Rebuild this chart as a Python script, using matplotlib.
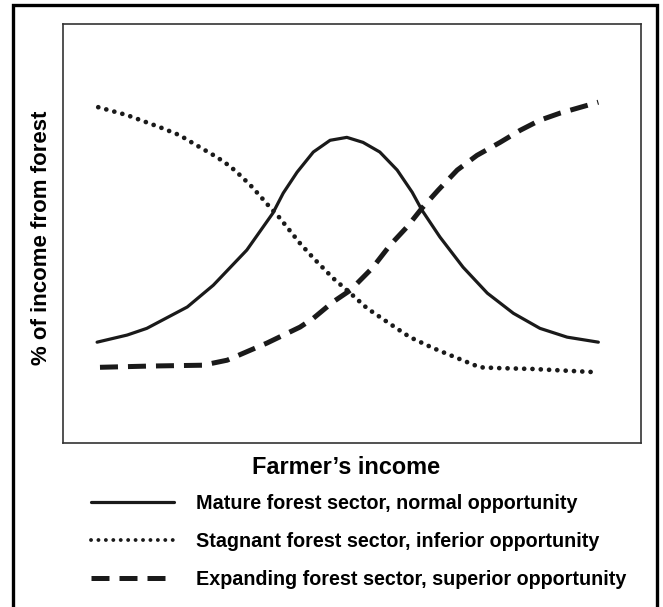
import matplotlib
matplotlib.use("Agg")
import matplotlib.pyplot as plt
from matplotlib.lines import Line2D
from matplotlib.patches import Rectangle

plt.rcParams['font.family'] = ['Liberation Sans', 'DejaVu Sans']

# farmer's income (0-100) and % of income from forest (0-100)
mature_x = [5.9, 11.1, 14.5, 21.5, 26.0, 31.8, 36.3, 38.1, 40.5, 43.3, 46.2, 49.1,
            51.9, 54.8, 57.8, 60.4, 62.1, 65.2, 69.2, 73.4, 77.9, 82.5, 87.2, 92.6]
mature_y = [24.1, 25.8, 27.4, 32.5, 37.7, 46.1, 54.9, 59.7, 64.7, 69.5, 72.3, 73.0,
            71.8, 69.5, 65.2, 59.9, 55.6, 49.2, 42.0, 35.8, 31.0, 27.4, 25.3, 24.1]

stagnant_x = [6.1, 11.1, 16.8, 20.2, 22.5, 24.6, 26.6, 28.9, 30.6, 32.4, 34.1, 35.8, 37.4,
              41.0, 43.3, 46.7, 49.7, 52.6, 56.1, 60.0, 64.0, 68.2, 72.1, 75.6, 81.3, 92.6]
stagnant_y = [80.2, 78.3, 75.4, 73.5, 71.6, 69.9, 68.3, 66.1, 64.0, 61.6, 59.0, 56.3, 53.9,
              47.7, 44.2, 39.4, 35.8, 32.2, 28.9, 25.3, 22.7, 20.3, 18.1, 17.9, 17.7, 16.9]

expanding_x = [6.4, 15.1, 24.2, 28.4, 35.3, 41.0, 43.3, 46.7, 49.7, 53.5, 56.6,
               59.5, 62.1, 64.9, 68.2, 71.6, 75.6, 79.1, 82.5, 86.0, 92.6]
expanding_y = [18.1, 18.4, 18.6, 19.8, 23.9, 27.7, 29.8, 33.7, 36.5, 41.8, 47.3,
               51.6, 56.1, 60.4, 65.2, 68.7, 71.8, 74.7, 77.1, 78.8, 81.4]

labels = ["Mature forest sector, normal opportunity",
          "Stagnant forest sector, inferior opportunity",
          "Expanding forest sector, superior opportunity"]

fig = plt.figure(figsize=(6.63, 6.07), dpi=100)
ax = fig.add_axes([0.095, 0.270, 0.872, 0.690])

ink = "#1a1a1a"
solid_style = dict(color=ink, lw=2.3, ls="-", solid_capstyle="round",
                   solid_joinstyle="round")
dot_style = dict(color=ink, lw=3.4, ls=(0, (0.01, 1.75)),
                 dash_capstyle="round")
dash_style = dict(color=ink, lw=3.6, ls=(0, (3.6, 2.0)),
                  dash_capstyle="butt")

ax.plot(mature_x, mature_y, **solid_style)
ax.plot(stagnant_x, stagnant_y, **dot_style)
ax.plot(expanding_x, expanding_y, **dash_style)

ax.set_xlim(0, 100)
ax.set_ylim(0, 100)
ax.set_xticks([])
ax.set_yticks([])
for s in ax.spines.values():
    s.set_linewidth(1.2)
    s.set_color("#333333")

ax.set_xlabel("Farmer\u2019s income", fontsize=16.9, fontweight="bold", labelpad=9)
ax.set_ylabel("% of income from forest", fontsize=16, fontweight="bold", labelpad=8)
ax.xaxis.label.set_x(0.4905)
ax.yaxis.label.set_y(0.489)

# legend below the plot
handles = [Line2D([], [], **solid_style),
           Line2D([], [], color=ink, lw=2.8, ls=(0, (0.01, 1.9)),
                  dash_capstyle="round"),
           Line2D([], [], **dash_style)]
fig.legend(handles, labels, loc="upper left", bbox_to_anchor=(0.138, 0.186),
           frameon=False, handlelength=4.2, handletextpad=1.1,
           labelspacing=0.95, borderaxespad=0, borderpad=0,
           prop=dict(size=14.2, weight="bold"))

# outer frame
fig.patches.append(Rectangle((0.0196, -0.05), 0.9714, 1.0418, transform=fig.transFigure,
                             fill=False, lw=2.4, ec="black"))

fig.savefig("out.png", dpi=100)
